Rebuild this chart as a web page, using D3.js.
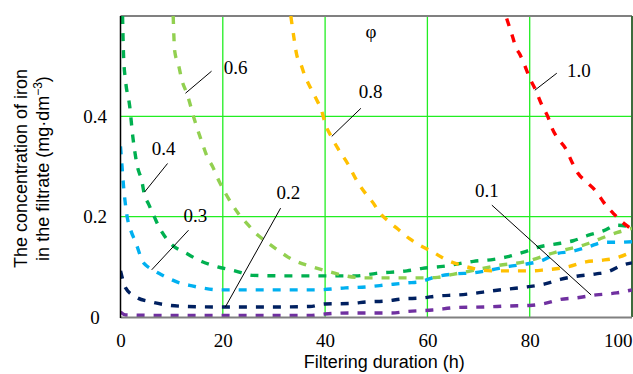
<!DOCTYPE html>
<html>
<head>
<meta charset="utf-8">
<script src="https://cdn.jsdelivr.net/npm/d3@7"></script>
<style>
  html, body { margin: 0; padding: 0; background: #fff; }
  svg { display: block; }
</style>
</head>
<body>
<svg id="chart" width="633" height="374"></svg>
<script>
// ---------------- data ----------------
const xTicks = [0, 20, 40, 60, 80, 100];
const yTicks = [0, 0.2, 0.4];
const xGrid = [20, 40, 60, 80];
const yGrid = [0.2, 0.4];

const phiNames = ["0.1", "0.2", "0.3", "0.4", "0.6", "0.8", "1.0"];

const s01 = [[0,0.01],[1,0.004],[10,0.003],[20,0.003],[30,0.003],[37,0.003],[40,0.006],[45,0.008],[53,0.008],[56,0.011],[61,0.014],[66,0.019],[71,0.02],[76,0.022],[80,0.023],[83,0.027],[86,0.035],[89,0.038],[93,0.044],[97,0.048],[100,0.054]];
const s02 = [[0,0.092],[0.3,0.08],[1,0.058],[3,0.04],[6,0.03],[9,0.024],[13,0.021],[20,0.02],[30,0.02],[37,0.021],[40,0.026],[45,0.027],[48,0.03],[52,0.032],[55,0.036],[59,0.038],[62,0.042],[66,0.044],[69,0.047],[72.5,0.052],[76,0.056],[79.5,0.06],[83,0.066],[86,0.075],[89,0.081],[93,0.086],[95.5,0.091],[98,0.103],[100,0.108]];
const s03 = [[0,0.34],[0.3,0.3],[0.6,0.26],[0.9,0.23],[1.3,0.2],[2,0.173],[3,0.148],[3.6,0.13],[4.2,0.113],[5,0.103],[6.3,0.094],[7.5,0.087],[9,0.079],[11,0.07],[14,0.062],[16.5,0.057],[19.5,0.054],[30,0.054],[38,0.054],[44,0.058],[48,0.06],[52,0.064],[56,0.068],[58.5,0.07],[61.5,0.08],[65.5,0.086],[69,0.088],[72.5,0.094],[76,0.101],[79,0.105],[82.5,0.113],[85.5,0.127],[88,0.13],[91.5,0.14],[94.5,0.149],[97,0.149],[100,0.15]];
const s04 = [[0.4,0.6],[0.6,0.52],[1,0.47],[1.8,0.42],[2.4,0.36],[3.3,0.3],[4.2,0.27],[4.6,0.247],[5.5,0.225],[6.6,0.2],[7.5,0.18],[9.3,0.152],[13.2,0.125],[16,0.11],[19,0.1],[22,0.093],[26,0.083],[32,0.082],[40,0.082],[46,0.082],[50,0.087],[56,0.092],[59,0.097],[63,0.101],[69,0.111],[73,0.115],[76,0.121],[79,0.13],[82,0.14],[86,0.147],[88.5,0.152],[91.5,0.163],[94.5,0.172],[97,0.183],[100,0.179]];
const s06 = [[10.3,0.6],[10.6,0.53],[11.4,0.5],[12,0.472],[13,0.445],[14.5,0.392],[16,0.346],[17,0.318],[18,0.3],[19.3,0.27],[20.5,0.247],[23,0.207],[25,0.183],[27,0.162],[28.5,0.15],[30.5,0.135],[33.5,0.115],[37.5,0.1],[41,0.09],[44,0.082],[48,0.078],[54,0.078],[59,0.078],[62,0.079],[65,0.085],[69,0.093],[74,0.103],[79,0.11],[85,0.129],[91,0.145],[94,0.157],[97,0.168],[100,0.177]];
const s08 = [[33.3,0.6],[33.9,0.557],[34.4,0.525],[35.4,0.5],[36,0.482],[37.2,0.456],[38.4,0.432],[39.3,0.412],[40,0.386],[41.3,0.358],[42.5,0.336],[44.4,0.306],[46.3,0.27],[48,0.245],[49.5,0.226],[50.5,0.21],[52.5,0.19],[54.5,0.173],[56.5,0.156],[58.5,0.143],[61,0.13],[63.5,0.115],[67,0.102],[72.5,0.092],[80.5,0.092],[83,0.094],[87.5,0.1],[91,0.11],[94,0.113],[97,0.118],[100,0.13]];
const s10 = [[75.5,0.595],[76.7,0.557],[77.3,0.537],[78,0.525],[78.9,0.505],[80,0.476],[81,0.456],[82.4,0.422],[83.6,0.398],[84.3,0.378],[85.5,0.356],[87,0.336],[88.3,0.308],[89.4,0.287],[91,0.27],[93,0.25],[94.5,0.228],[96.5,0.205],[98,0.19],[100,0.175]];

const seriesData = [s01, s02, s03, s04, s06, s08, s10];
const seriesColors = ["#7030a0", "#002060", "#00b0f0", "#00b050", "#92d050", "#ffc000", "#ff0000"];

// annotation anchors in data units: [label x, label y, leader from x, from y, to x, to y]
const labelAnchors = [
  [69.3, 0.239, 72.6, 0.223, 92.0, 0.044],
  [30.5, 0.235, 31.3, 0.217, 20.5, 0.020],
  [12.3, 0.189, 13.3, 0.173, 6.1, 0.094],
  [6.1, 0.322, 9.2, 0.306, 4.7, 0.249],
  [20.2, 0.484, 17.8, 0.490, 12.7, 0.446],
  [46.6, 0.436, 47.0, 0.416, 41.3, 0.360],
  [87.3, 0.478, 85.3, 0.486, 81.0, 0.452]
];
const phiAnchor = [47.9, 0.557];

// ---------------- chart ----------------
const svg = d3.select("#chart");
const serif = "'Liberation Serif', 'Times New Roman', serif";
const sans = "'Liberation Sans', Arial, sans-serif";

const x = d3.scaleLinear().domain([0, 100]).range([120.5, 632]);
const y = d3.scaleLinear().domain([0, 0.6]).range([317, 16]);

svg.append("defs").append("clipPath").attr("id", "plotclip")
  .append("rect")
  .attr("x", x(0)).attr("y", y(0.6))
  .attr("width", x(100) - x(0)).attr("height", y(0) - y(0.6));

// gridlines
svg.append("g").selectAll("line").data(xGrid).join("line")
  .attr("x1", d => x(d)).attr("x2", d => x(d))
  .attr("y1", y(0.6)).attr("y2", y(0))
  .attr("stroke", "#22ee22").attr("stroke-width", 1.3);
svg.append("g").selectAll("line").data(yGrid).join("line")
  .attr("x1", x(0)).attr("x2", x(100))
  .attr("y1", d => y(d)).attr("y2", d => y(d))
  .attr("stroke", "#22ee22").attr("stroke-width", 1.3);

// frame
svg.append("line").attr("x1", x(0)).attr("x2", x(100)).attr("y1", y(0.6)).attr("y2", y(0.6))
  .attr("stroke", "#808080").attr("stroke-width", 2);
svg.append("line").attr("x1", x(100)).attr("x2", x(100)).attr("y1", y(0.6)).attr("y2", y(0))
  .attr("stroke", "#3d6b3d").attr("stroke-width", 2);

// series
const line = d3.line().x(d => x(d[0])).y(d => y(d[1])).curve(d3.curveMonotoneX);
svg.append("g").attr("clip-path", "url(#plotclip)")
  .selectAll("path").data(seriesData).join("path")
  .attr("d", line)
  .attr("fill", "none")
  .attr("stroke", (d, i) => seriesColors[i])
  .attr("stroke-width", 3.4)
  .attr("stroke-dasharray", "8,9");

// axes lines
svg.append("line").attr("x1", x(0)).attr("x2", x(100)).attr("y1", y(0) + 0.5).attr("y2", y(0) + 0.5)
  .attr("stroke", "#808080").attr("stroke-width", 2);
svg.append("line").attr("x1", x(0)).attr("x2", x(0)).attr("y1", y(0.6)).attr("y2", y(0) + 1)
  .attr("stroke", "#000").attr("stroke-width", 1.5);

// x axis labels
const gx = svg.append("g").attr("transform", `translate(0,${y(0)})`)
  .call(d3.axisBottom(x).tickValues(xTicks).tickSize(0).tickPadding(17).tickFormat(d3.format("d")));
gx.select(".domain").remove();
gx.selectAll("text").attr("font-family", serif).attr("font-size", 19).attr("fill", "#000");
gx.selectAll(".tick").filter(d => d === 100).select("text").attr("text-anchor", "end").attr("x", 0);

// y axis labels
const gy = svg.append("g").attr("transform", `translate(${x(0)},0)`)
  .call(d3.axisLeft(y).tickValues(yTicks).tickSize(0).tickFormat(d => d === 0 ? "0" : d3.format(".1f")(d)));
gy.select(".domain").remove();
gy.selectAll("text").attr("font-family", serif).attr("font-size", 19).attr("fill", "#000")
  .attr("text-anchor", "middle").attr("x", -25.5);

// axis titles
svg.append("text").attr("x", (x(0) + x(100)) / 2 + 8).attr("y", 368)
  .attr("text-anchor", "middle").attr("font-family", sans).attr("font-size", 18).attr("fill", "#000")
  .text("Filtering duration (h)");

const yt = svg.append("g").attr("transform", `translate(0,${(y(0) + y(0.6)) / 2 + 2}) rotate(-90)`);
yt.append("text").attr("x", 0).attr("y", 27).attr("text-anchor", "middle")
  .attr("font-family", sans).attr("font-size", 18).attr("fill", "#000")
  .text("The concentration of iron");
const t2 = yt.append("text").attr("x", 0).attr("y", 49).attr("text-anchor", "middle")
  .attr("font-family", sans).attr("font-size", 18).attr("fill", "#000");
t2.append("tspan").text("in the filtrate (mg·dm");
t2.append("tspan").attr("dy", -7).attr("font-size", 12).text("−3");
t2.append("tspan").attr("dy", 7).text(")");

// annotations
const ann = svg.append("g");
ann.selectAll("line").data(labelAnchors).join("line")
  .attr("x1", d => x(d[2])).attr("y1", d => y(d[3]))
  .attr("x2", d => x(d[4])).attr("y2", d => y(d[5]))
  .attr("stroke", "#000").attr("stroke-width", 1);
ann.selectAll("text").data(labelAnchors).join("text")
  .attr("x", d => x(d[0])).attr("y", d => y(d[1]))
  .attr("font-family", serif).attr("font-size", 19).attr("fill", "#000")
  .text((d, i) => phiNames[i]);
svg.append("text").attr("x", x(phiAnchor[0])).attr("y", y(phiAnchor[1]))
  .attr("font-family", serif).attr("font-size", 19).attr("fill", "#000").text("φ");
</script>
</body>
</html>
